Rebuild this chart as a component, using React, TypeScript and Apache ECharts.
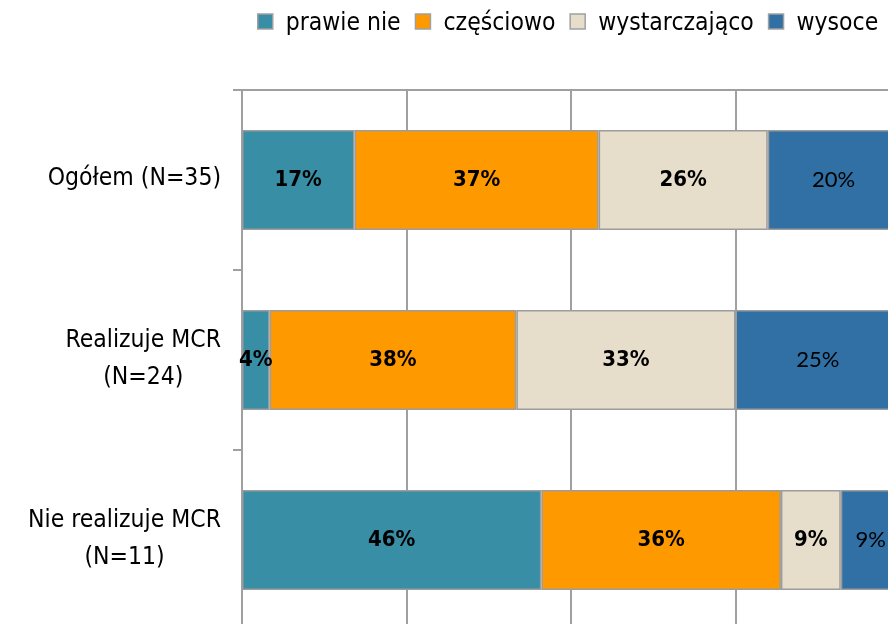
import React, { useEffect, useRef } from "react";
import * as echarts from "echarts";

const categories = ["Ogółem (N=35)", "Realizuje MCR\n(N=24)", "Nie realizuje MCR\n(N=11)"];
const seriesNames = ["prawie nie", "częściowo", "wystarczająco", "wysoce"];
const prawieNie = [17.1, 4.2, 45.5];
const czesciowo = [37.1, 37.5, 36.4];
const wystarczajaco = [25.7, 33.3, 9.1];
const wysoce = [20.0, 25.0, 9.1];
const xTicks = [0, 25, 50, 75, 100];

const colors = ["#388EA5", "#FF9900", "#E6DECA", "#3070A5"];
const mainFont = "'DejaVu Sans Condensed', 'DejaVu Sans', sans-serif";
const altFont = "Lato, 'Open Sans', sans-serif";

export default function App() {
  const ref = useRef<HTMLDivElement>(null);
  useEffect(() => {
    if (!ref.current) return;
    const chart = echarts.init(ref.current, null, { renderer: "svg" });
    const dataSets = [prawieNie, czesciowo, wystarczajaco, wysoce];
    const series = dataSets.map((d, i) => ({
      name: seriesNames[i],
      type: "bar",
      stack: "total",
      barWidth: 100,
      data: d,
      itemStyle: { color: colors[i], borderColor: "#9C9C9C", borderWidth: 1.5 },
      label: {
        show: true,
        position: "inside",
        offset: [0, -2],
        color: "#000",
        formatter: (p: any) => Math.round(p.value) + "%",
        fontFamily: i === 3 ? altFont : mainFont,
        fontWeight: i === 3 ? "normal" : "bold",
        fontSize: 22,
      },
    }));
    chart.setOption({
      animation: false,
      legend: {
        left: 257,
        top: 9,
        padding: 0,
        itemWidth: 15,
        itemHeight: 15,
        itemGap: 14,
        icon: "rect",
        itemStyle: { borderColor: "#A0A0A0", borderWidth: 1.5 },
        textStyle: { fontFamily: mainFont, fontSize: 24.5, color: "#000", padding: [0, 0, 0, 8] },
        data: seriesNames,
      },
      grid: { left: 242, top: 90, width: 658, height: 540, containLabel: false, outerBoundsMode: "none" },
      xAxis: {
        type: "value",
        position: "top",
        min: xTicks[0],
        max: xTicks[xTicks.length - 1],
        interval: 25,
        axisLabel: { show: false },
        axisTick: { show: false },
        axisLine: { show: true, lineStyle: { color: "#A0A0A0", width: 2 } },
        splitLine: { show: true, lineStyle: { color: "#A0A0A0", width: 2 } },
      },
      yAxis: {
        type: "category",
        inverse: true,
        data: categories,
        axisLine: { show: true, lineStyle: { color: "#A0A0A0", width: 2 } },
        axisTick: { show: true, length: 9, lineStyle: { color: "#A0A0A0", width: 2 } },
        axisLabel: {
          margin: 21,
          align: "right",
          padding: [0, 0, 7, 0],
          formatter: (v: string) => v.split("\n").map((l) => `{c|${l}}`).join("\n"),
          rich: {
            c: { align: "center", fontFamily: mainFont, fontSize: 24.5, lineHeight: 37, color: "#000" },
          },
        },
      },
      series,
    });
    return () => chart.dispose();
  }, []);
  return <div ref={ref} style={{ position: "fixed", left: 0, top: 0, width: 888, height: 624 }} />;
}
